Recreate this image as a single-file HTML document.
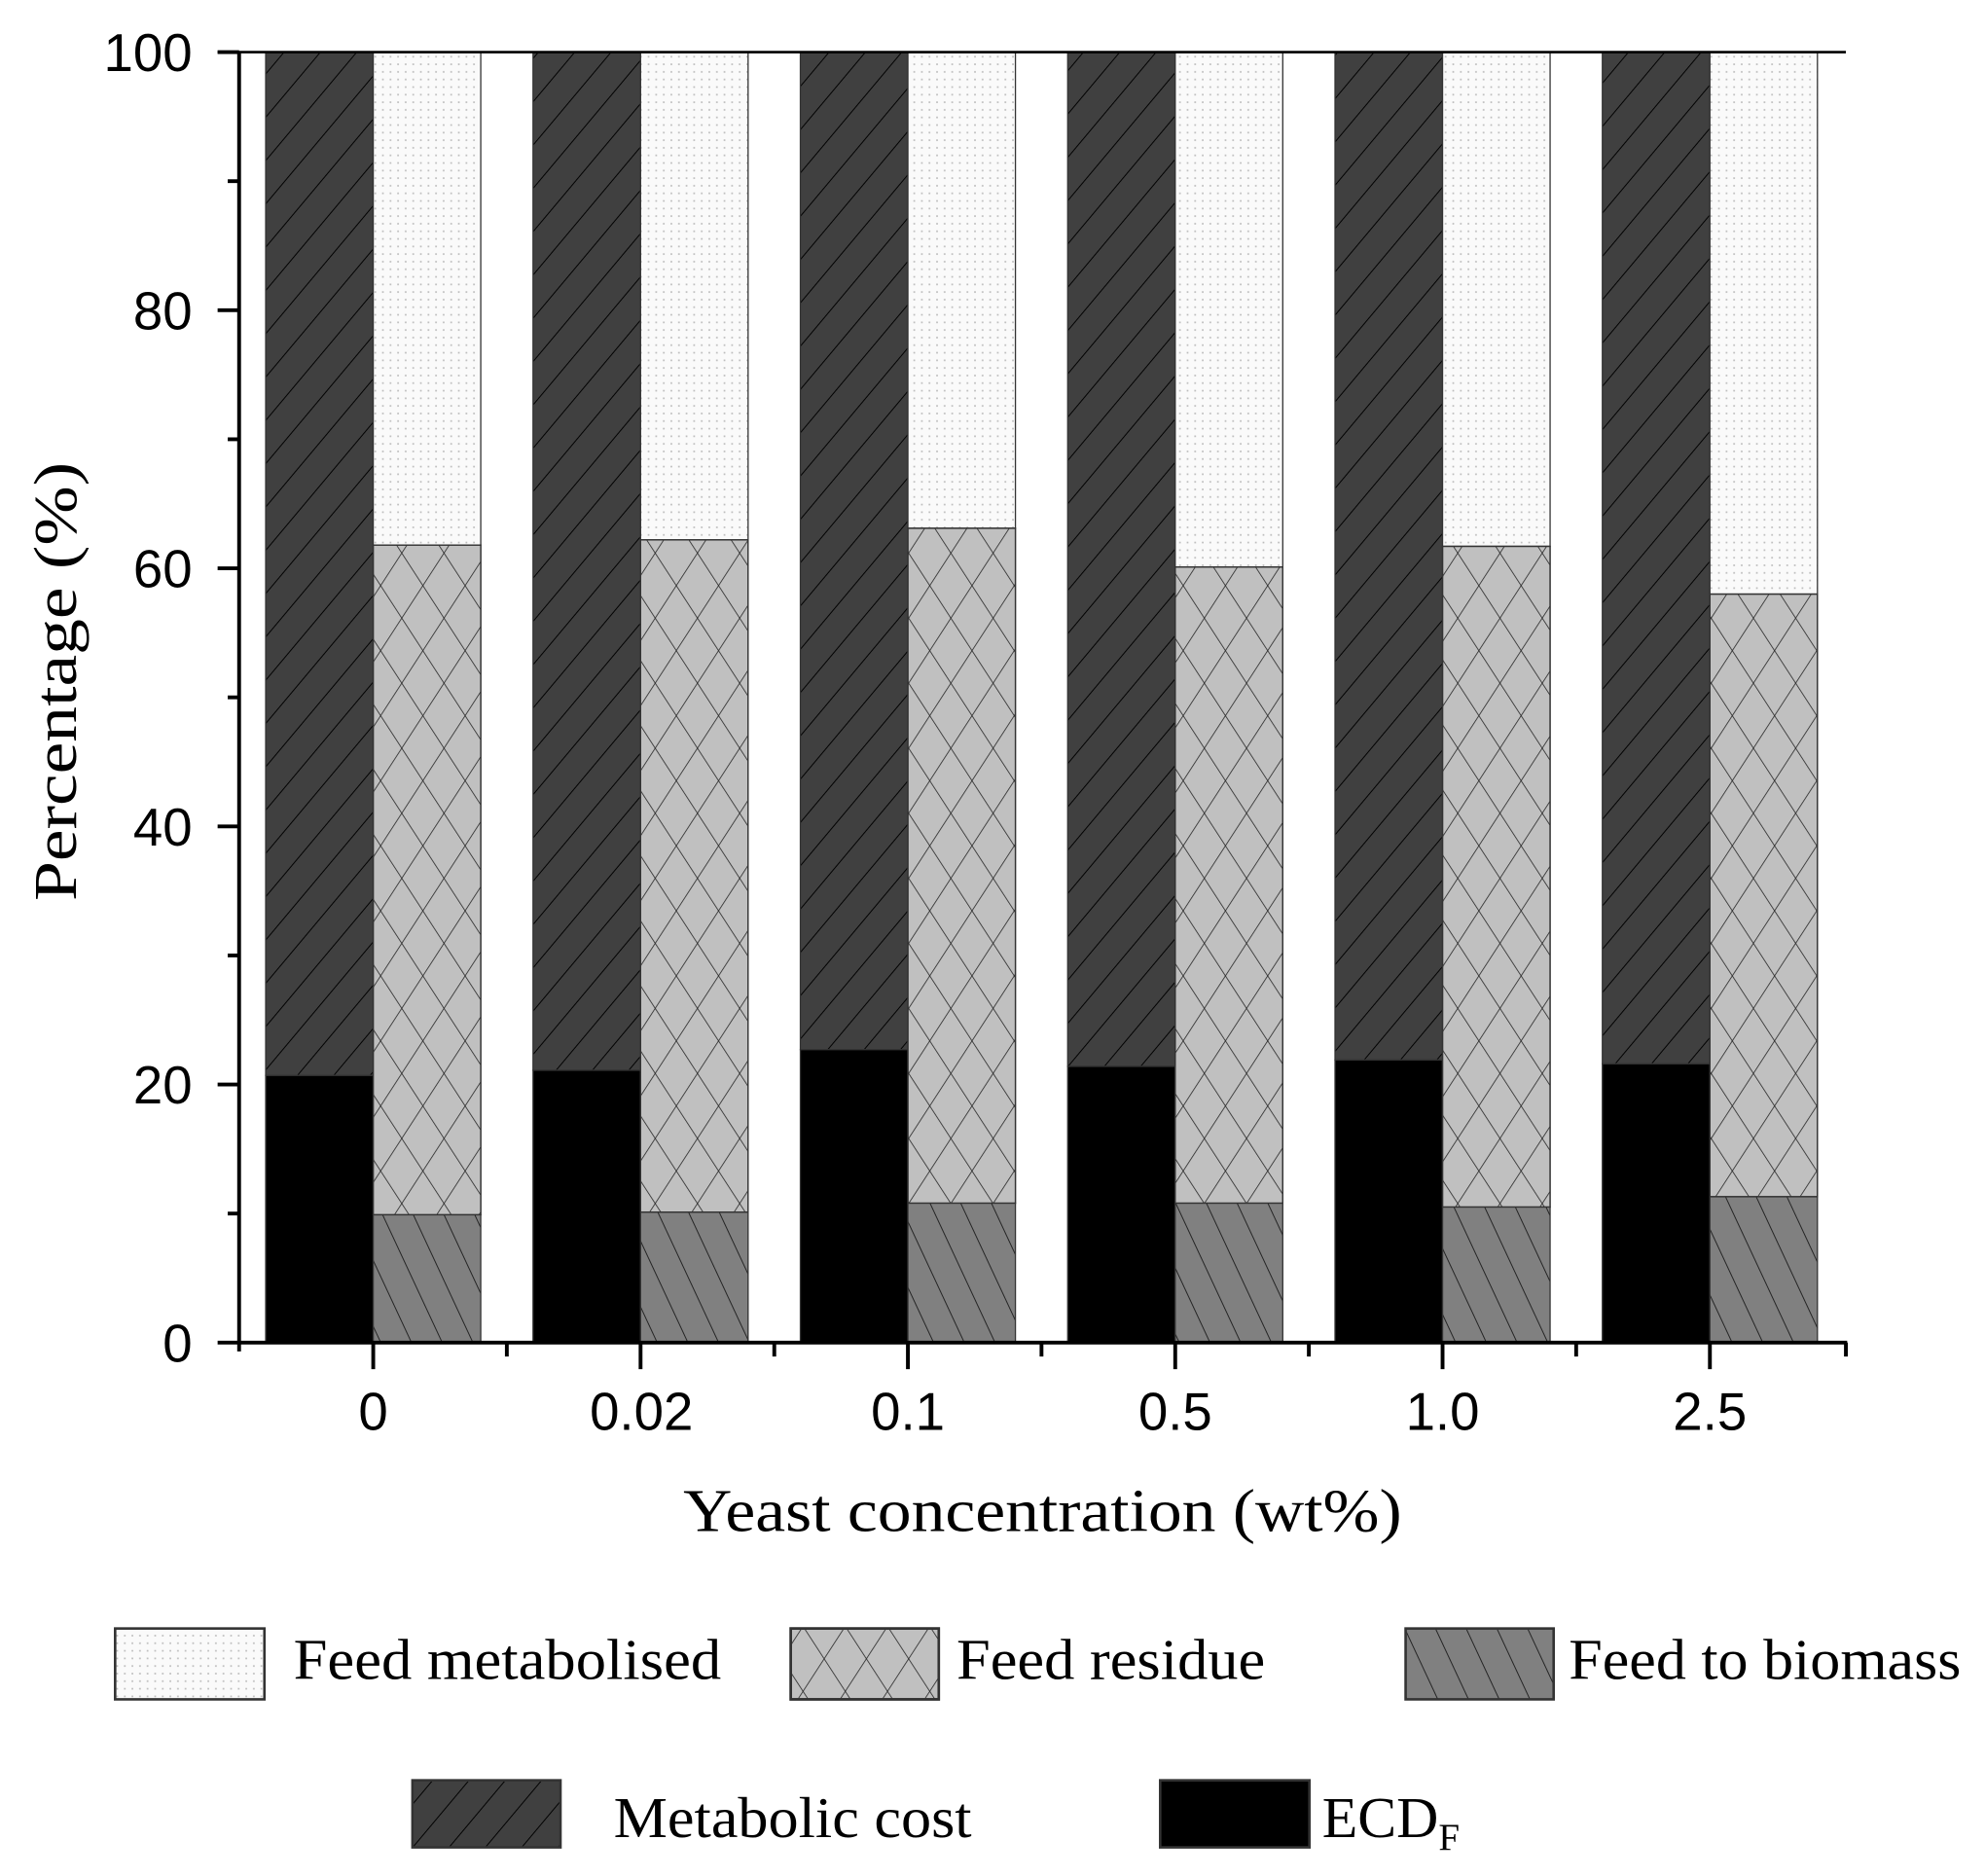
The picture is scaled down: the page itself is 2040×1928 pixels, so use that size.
<!DOCTYPE html>
<html><head><meta charset="utf-8"><style>html,body{margin:0;padding:0;background:#fff}svg{display:block}</style></head><body>
<svg width="2040" height="1928" viewBox="0 0 1560 1474" xmlns="http://www.w3.org/2000/svg">
<defs>
<pattern id="mc" patternUnits="userSpaceOnUse" width="22" height="22" patternTransform="rotate(40)">
<rect width="22" height="22" fill="#404040"/><line x1="0" y1="0" x2="0" y2="22" stroke="#000" stroke-width="1.5"/></pattern>
<pattern id="fb" patternUnits="userSpaceOnUse" width="22" height="22" patternTransform="rotate(-25)">
<rect width="22" height="22" fill="#808080"/><line x1="0" y1="0" x2="0" y2="22" stroke="#222" stroke-width="1.5"/></pattern>
<pattern id="fr" patternUnits="userSpaceOnUse" width="28" height="28" patternTransform="rotate(33)">
<rect width="28" height="28" fill="#c0c0c0"/><line x1="0" y1="0" x2="0" y2="28" stroke="#222" stroke-width="1.2"/></pattern>
<pattern id="fr2" patternUnits="userSpaceOnUse" width="28" height="28" patternTransform="rotate(-33)">
<line x1="0" y1="0" x2="0" y2="28" stroke="#222" stroke-width="1.2"/></pattern>
<pattern id="fm" patternUnits="userSpaceOnUse" width="6" height="6">
<rect width="6" height="6" fill="#fafafa"/><rect x="2" y="2" width="1.3" height="1.3" fill="#bbb"/></pattern>
</defs>
<g transform="scale(0.9943)">
<g id="bars" stroke="#333" stroke-width="1">
</g>
<script>
(function(){
var d=[[20.7,61.8,9.9],[21.1,62.2,10.1],[22.7,63.1,10.8],[21.4,60.1,10.8],[21.9,61.7,10.5],[21.6,58.0,11.3]];
var g=document.getElementById('bars'),ns='http://www.w3.org/2000/svg';
function Y(v){return 1061-v*10.2;}
function r(x,y1,y2,w,f){var e=document.createElementNS(ns,'rect');e.setAttribute('x',x);e.setAttribute('y',Y(y2));e.setAttribute('width',w);e.setAttribute('height',Y(y1)-Y(y2));e.setAttribute('fill',f);g.appendChild(e);}
d.forEach(function(v,i){var c=295+i*211.3;
r(c-85,v[0],100,85,'url(#mc)');r(c-85,0,v[0],85,'#000');
r(c,v[1],100,85,'url(#fm)');r(c,v[2],v[1],85,'url(#fr)');r(c,v[2],v[1],85,'url(#fr2)');r(c,0,v[2],85,'url(#fb)');});
})();
</script>
<g stroke="#000" stroke-width="3" fill="none">
<line x1="172" y1="41" x2="1459" y2="41" stroke-width="2"/>
<line x1="189" y1="41" x2="189" y2="1062"/>
<line x1="172" y1="1061" x2="1460" y2="1061"/>
<path d="M172 41H189M172 245H189M172 449H189M172 653H189M172 857H189M180 143H189M180 347H189M180 551H189M180 755H189M180 959H189"/>
<path d="M295 1061V1082M506.3 1061V1082M717.6 1061V1082M928.9 1061V1082M1140.2 1061V1082M1351.5 1061V1082"/>
<path d="M189 1061V1068M400.6 1061V1072M612 1061V1072M823.2 1061V1072M1034.5 1061V1072M1245.8 1061V1072M1459 1061V1072"/>
</g>
<g font-family="Liberation Sans, Arial, sans-serif" font-size="42" text-anchor="end" fill="#000">
<text x="152" y="56">100</text><text x="152" y="260">80</text><text x="152" y="464">60</text><text x="152" y="668">40</text><text x="152" y="872">20</text><text x="152" y="1076">0</text>
</g>
<g font-family="Liberation Sans, Arial, sans-serif" font-size="42" text-anchor="middle">
<text x="295" y="1130">0</text><text x="507" y="1130">0.02</text><text x="717.6" y="1130">0.1</text><text x="928.9" y="1130">0.5</text><text x="1140.2" y="1130">1.0</text><text x="1351.5" y="1130">2.5</text>
</g>
<g font-family="Liberation Serif, Times New Roman, serif" font-size="48" fill="#000">
<text x="540" y="1210" textLength="568" lengthAdjust="spacingAndGlyphs">Yeast concentration (wt%)</text>
<text transform="translate(60,712) rotate(-90)" textLength="347" lengthAdjust="spacingAndGlyphs">Percentage (%)</text>
<text x="232" y="1327" font-size="46" textLength="338" lengthAdjust="spacingAndGlyphs">Feed metabolised</text>
<text x="756" y="1327" font-size="46" textLength="244" lengthAdjust="spacingAndGlyphs">Feed residue</text>
<text x="1240" y="1327" font-size="46" textLength="310" lengthAdjust="spacingAndGlyphs">Feed to biomass</text>
<text x="485" y="1452" font-size="46" textLength="283" lengthAdjust="spacingAndGlyphs">Metabolic cost</text>
<text x="1045" y="1452" font-size="46">ECD<tspan font-size="30" dy="10">F</tspan></text>
</g>
<g stroke="#333" stroke-width="2">
<rect x="91" y="1287" width="118" height="56" fill="url(#fm)"/>
<rect x="625" y="1287" width="117" height="56" fill="url(#fr)"/>
<rect x="625" y="1287" width="117" height="56" fill="url(#fr2)"/>
<rect x="1111" y="1287" width="117" height="56" fill="url(#fb)"/>
<rect x="326" y="1407" width="117" height="53" fill="url(#mc)"/>
<rect x="917" y="1407" width="118" height="53" fill="#000"/>
</g>
</g>
</svg>
</body></html>
